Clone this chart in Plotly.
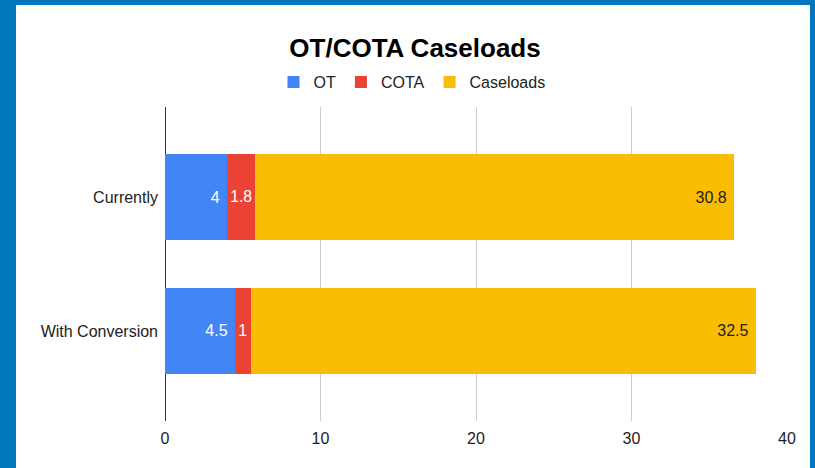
import plotly.graph_objects as go

# data
categories = ["Currently", "With Conversion"]
ot = [4, 4.5]
cota = [1.8, 1]
caseloads = [30.8, 32.5]

series = [
    ("OT", ot, "#4285F4", "white", "end"),
    ("COTA", cota, "#EA4335", "white", "middle"),
    ("Caseloads", caseloads, "#FBBC04", "#222222", "end"),
]

fig = go.Figure()
for name, vals, col, txtcol, anchor in series:
    # nbsp gives the end-anchored labels a little padding from the bar end
    pad = "\u00a0" if anchor == "end" else ""
    fig.add_trace(go.Bar(
        y=categories, x=vals, name=name, orientation="h",
        marker=dict(color=col, line=dict(width=0)),
        text=[str(v) + pad for v in vals], textposition="inside",
        insidetextanchor=anchor, textangle=0,
        insidetextfont=dict(color=txtcol, size=16, family="Liberation Sans, Arial"),
        width=0.64,
    ))

# plot area: x 165..787 px, y 107..421 px
L, R, T, B = 165, 28, 107, 47
W, H = 815, 468
pw, ph = W - L - R, H - T - B

def px_x(p):
    return (p - L) / pw

def px_y(p):
    return (H - B - p) / ph

fig.update_layout(
    width=W, height=H,
    margin=dict(l=L, r=R, t=T, b=B),
    barmode="stack",
    paper_bgcolor="#0176BD",
    plot_bgcolor="white",
    font=dict(family="Liberation Sans, Arial", size=16, color="#222222"),
    title=dict(text="<b>OT/COTA Caseloads</b>", x=415 / W, xanchor="center",
               y=1 - 48 / H, yanchor="middle", yref="container",
               font=dict(size=26, color="#000000")),
    legend=dict(orientation="h", x=px_x(412), xanchor="center",
                y=px_y(82), yanchor="middle", bgcolor="rgba(0,0,0,0)",
                traceorder="normal",
                font=dict(size=16, color="#222222"), itemwidth=30),
    shapes=[dict(type="rect", xref="paper", yref="paper", layer="below",
                 x0=px_x(16), x1=px_x(810), y0=px_y(470), y1=px_y(5),
                 fillcolor="white", line=dict(width=0))],
    showlegend=True,
)
fig.update_xaxes(range=[0, 40], tickvals=[0, 10, 20, 30, 40],
                 showgrid=True, gridcolor="#CCCCCC", gridwidth=1,
                 zeroline=True, zerolinecolor="#333333", zerolinewidth=1,
                 showline=False, ticks="", ticklabelstandoff=6)
fig.update_yaxes(categoryorder="array", categoryarray=categories,
                 range=[1.672, -0.672], showgrid=False, zeroline=False,
                 showline=False, ticks="", ticklabelstandoff=6)

# page body has an 8px default margin; remove it so the figure fills the window
fig.write_html("out.html", config={"displayModeBar": False},
               post_script="document.body.style.margin='0px';")
